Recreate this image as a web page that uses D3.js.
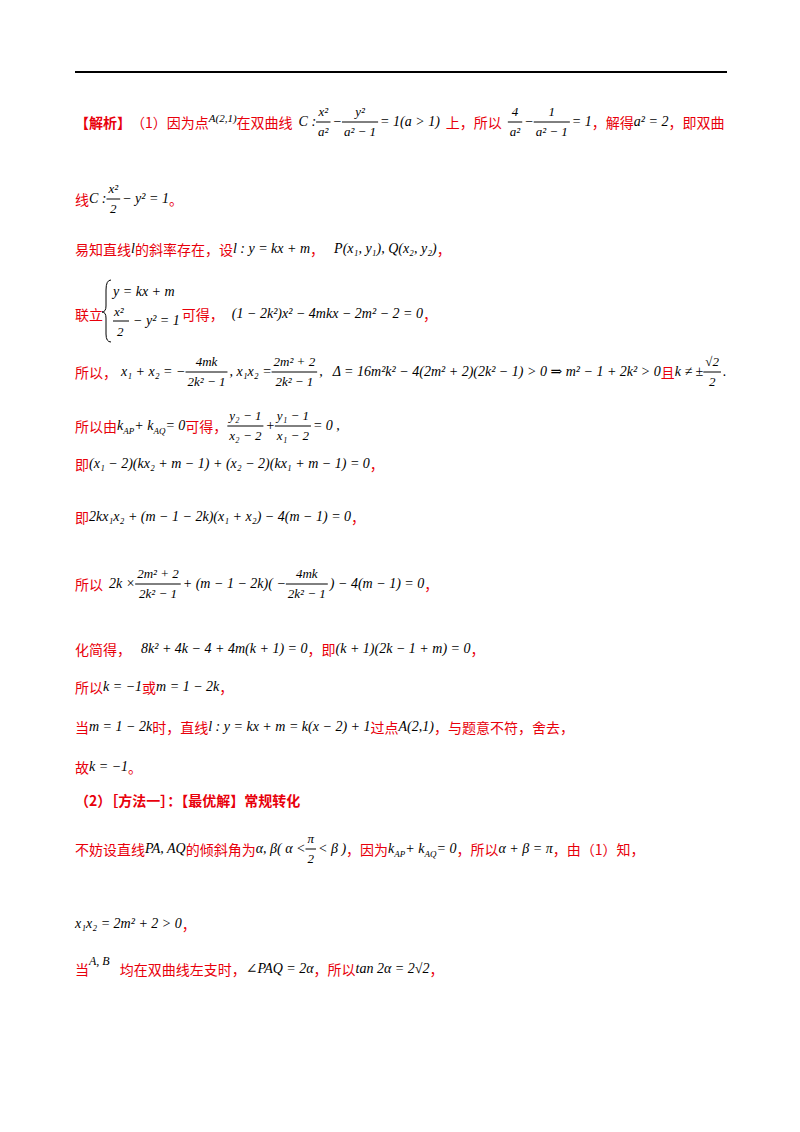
<!DOCTYPE html>
<html><head><meta charset="utf-8">
<script src="https://cdn.jsdelivr.net/npm/d3@7"></script>
<style>body{margin:0;background:#fff}</style></head>
<body><svg id="s" width="800" height="1132"></svg>
<script>
const R=(t)=>({k:'r',t}),M=(t)=>({k:'m',t}),B=(t)=>({k:'b',t}),F=(n,d)=>({k:'f',n,d}),G=(g)=>({k:'g',g});
const lineY=[128,205,255,320,378,432,470,523,590,655,693,733,773,806,855,930,975];
const lineSegs=[
 [B('【解析】'),R('（1）因为点'),{k:'m',t:'A(2,1)',s:11,dy:-4},R('在双曲线'),G(6),M('C : '),F('x²','a²'),M(' − '),F('y²','a² − 1'),M(' = 1(a > 1)'),G(6),R('上，所以'),G(6),F('4','a²'),M(' − '),F('1','a² − 1'),M(' = 1'),R('，解得'),M('a² = 2'),R('，即双曲')],
 [R('线'),M('C : '),F('x²','2'),M(' − y² = 1'),R('。')],
 [R('易知直线'),M('l'),R('的斜率存在，设'),M('l : y = kx + m'),R('，'),G(10),M('P(x₁, y₁), Q(x₂, y₂)'),R('，')],
 [R('联立'),{k:'sys'},R('可得，'),G(8),M('(1 − 2k²)x² − 4mkx − 2m² − 2 = 0'),R('，')],
 [R('所以，'),G(4),M('x₁ + x₂ = −'),F('4mk','2k² − 1'),M(', x₁x₂ = '),F('2m² + 2','2k² − 1'),M(' ,'),G(10),M('Δ = 16m²k² − 4(2m² + 2)(2k² − 1) > 0 ⇒ m² − 1 + 2k² > 0'),R('且'),M('k ≠ ±'),F('√2','2'),M(' .')],
 [R('所以由'),M('k'),{k:'m',t:'AP',s:9,dy:4},M(' + k'),{k:'m',t:'AQ',s:9,dy:4},M(' = 0'),R('可得，'),F('y₂ − 1','x₂ − 2'),M(' + '),F('y₁ − 1','x₁ − 2'),M(' = 0 ,')],
 [R('即'),M('(x₁ − 2)(kx₂ + m − 1) + (x₂ − 2)(kx₁ + m − 1) = 0'),R('，')],
 [R('即'),M('2kx₁x₂ + (m − 1 − 2k)(x₁ + x₂) − 4(m − 1) = 0'),R('，')],
 [R('所以'),G(6),M('2k × '),F('2m² + 2','2k² − 1'),M(' + (m − 1 − 2k)( − '),F('4mk','2k² − 1'),M(' ) − 4(m − 1) = 0'),R('，')],
 [R('化简得，'),G(10),M('8k² + 4k − 4 + 4m(k + 1) = 0'),R('，即'),M('(k + 1)(2k − 1 + m) = 0'),R('，')],
 [R('所以'),M('k = −1'),R('或'),M('m = 1 − 2k'),R('，')],
 [R('当'),M('m = 1 − 2k'),R('时，直线'),M('l : y = kx + m = k(x − 2) + 1'),R('过点'),M('A(2,1)'),R('，与题意不符，舍去，')],
 [R('故'),M('k = −1'),R('。')],
 [B('（2）［方法一］：【最优解】常规转化')],
 [R('不妨设直线'),M('PA, AQ'),R('的倾斜角为'),M('α, β( α < '),F('π','2'),M(' < β )'),R('，因为'),M('k'),{k:'m',t:'AP',s:9,dy:4},M(' + k'),{k:'m',t:'AQ',s:9,dy:4},M(' = 0'),R('，所以'),M('α + β = π'),R('，由（1）知，')],
 [M('x₁x₂ = 2m² + 2 > 0'),R('，')],
 [R('当'),{k:'m',t:'A, B',s:12,dy:-8},G(10),R('均在双曲线左支时，'),M('∠PAQ = 2α'),R('，所以'),M('tan 2α = 2√2'),R('，')]
];
const svg=d3.select('#s');
const yx=d3.scaleLinear().domain([0,1132]).range([0,1132]);
svg.append('line').attr('x1',75).attr('x2',727).attr('y1',72).attr('y2',72).attr('stroke','#000').attr('stroke-width',2);
const CJK='"Noto Sans CJK SC", sans-serif', SER='"Liberation Serif", "DejaVu Serif", serif';
function txt(x,y,t,o){const e=svg.append('text').attr('x',x).attr('y',y).text(t)
 .attr('font-family',o.f).attr('font-size',o.s).attr('fill',o.c).attr('font-weight',o.w||'normal').attr('font-style',o.i?'italic':'normal');
 return e.node().getComputedTextLength();}
lineSegs.forEach((segs,i)=>{
 const y=yx(lineY[i]); let x=75;
 segs.forEach(s=>{
  if(s.k==='g'){x+=s.g;return;}
  if(s.k==='r'){x+=txt(x,y,s.t,{f:CJK,s:14,c:'#e8000b'});return;}
  if(s.k==='b'){x+=txt(x,y,s.t,{f:CJK,s:14,c:'#e8000b',w:'bold'});return;}
  if(s.k==='m'){x+=txt(x,y+(s.dy||0)-2,s.t,{f:SER,s:s.s||14,c:'#000',i:true});return;}
  if(s.k==='f'){
   const g=svg.append('g');
   const a=g.append('text').text(s.n).attr('font-family',SER).attr('font-size',13).attr('font-style','italic');
   const b=g.append('text').text(s.d).attr('font-family',SER).attr('font-size',13).attr('font-style','italic');
   const w=Math.max(a.node().getComputedTextLength(),b.node().getComputedTextLength())+4;
   a.attr('x',x+w/2).attr('y',y-12).attr('text-anchor','middle');
   b.attr('x',x+w/2).attr('y',y+8).attr('text-anchor','middle');
   g.append('line').attr('x1',x).attr('x2',x+w).attr('y1',y-6).attr('y2',y-6).attr('stroke','#000');
   x+=w+2;return;}
  if(s.k==='sys'){
   svg.append('path').attr('d',`M${x+8},${y-40} Q${x+3},${y-40} ${x+3},${y-30} L${x+3},${y-14} Q${x+3},${y-8} ${x-1},${y-8} Q${x+3},${y-8} ${x+3},${y-2} L${x+3},${y+14} Q${x+3},${y+22} ${x+8},${y+22}`).attr('fill','none').attr('stroke','#000');
   txt(x+10,y-24,'y = kx + m',{f:SER,s:14,c:'#000',i:true});
   const g=x+10;
   txt(g+1,y-4,'x²',{f:SER,s:13,c:'#000',i:true});
   svg.append('line').attr('x1',g).attr('x2',g+16).attr('y1',y+1).attr('y2',y+1).attr('stroke','#000');
   txt(g+4,y+16,'2',{f:SER,s:13,c:'#000',i:true});
   const w=txt(g+20,y+5,'− y² = 1',{f:SER,s:14,c:'#000',i:true});
   x=g+20+w+2;}
 });
});
</script></body></html>
